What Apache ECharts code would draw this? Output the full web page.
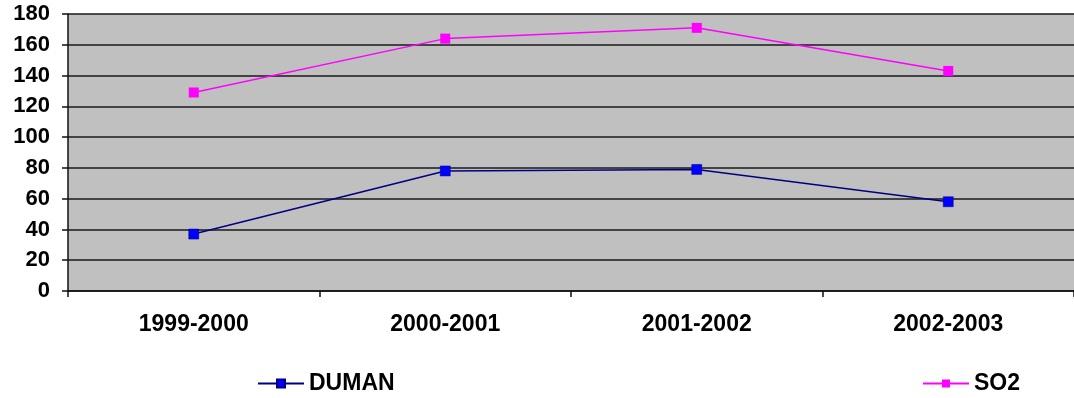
<!DOCTYPE html>
<html>
<head>
<meta charset="utf-8">
<script src="https://cdn.jsdelivr.net/npm/echarts@6/dist/echarts.min.js"></script>
<style>
  html, body { margin: 0; padding: 0; background: #ffffff; }
  #chart { width: 1074px; height: 398px; }
</style>
</head>
<body>
<div id="chart"></div>
<script>
// Seasons on the category axis
const seasons = ['1999-2000', '2000-2001', '2001-2002', '2002-2003'];
// Smoke (DUMAN) and sulphur dioxide (SO2) levels per season
const duman = [37, 78, 79, 58];
const so2 = [129, 164, 171, 143];
// Value axis range
const yMin = 0;
const yMax = 180;
const yStep = 20;

const font = 'Liberation Sans, Arial, sans-serif';
const chart = echarts.init(document.getElementById('chart'), null, { renderer: 'canvas' });

chart.setOption({
  animation: false,
  backgroundColor: '#ffffff',
  grid: {
    left: 68, top: 14, width: 1010, height: 277,
    show: true, backgroundColor: '#c0c0c0', borderWidth: 0
  },
  legend: [
    {
      data: ['DUMAN'], left: 252, top: 367,
      itemWidth: 46, itemHeight: 10, itemGap: 10,
      textStyle: { fontFamily: font, fontWeight: 'bold', fontSize: 23, color: '#000' }
    },
    {
      data: ['SO2'], left: 917, top: 367,
      itemWidth: 46, itemHeight: 10, itemGap: 7,
      textStyle: { fontFamily: font, fontWeight: 'bold', fontSize: 23, color: '#000' }
    }
  ],
  xAxis: {
    type: 'category',
    data: seasons,
    boundaryGap: true,
    axisLine: { lineStyle: { color: '#111', width: 1.5 } },
    axisTick: { show: true, interval: 0, length: 6, lineStyle: { color: '#111', width: 1.5 } },
    axisLabel: { margin: 22, fontFamily: font, fontWeight: 'bold', fontSize: 23, color: '#000', interval: 0 },
    splitLine: { show: false }
  },
  yAxis: {
    type: 'value',
    min: yMin, max: yMax, interval: yStep,
    axisLine: { show: true, lineStyle: { color: '#111', width: 1.5 } },
    axisTick: { show: true, length: 6, lineStyle: { color: '#111', width: 1.5 } },
    axisLabel: { margin: 18, fontFamily: font, fontWeight: 'bold', fontSize: 22, color: '#000' },
    splitLine: { show: true, lineStyle: { color: '#1a1a1a', width: 1.5 } }
  },
  series: [
    {
      name: 'DUMAN', type: 'line', data: duman,
      symbol: 'rect', symbolSize: 10,
      lineStyle: { color: '#000080', width: 1.5 },
      itemStyle: { color: '#0000ff', borderColor: '#000080', borderWidth: 0.5 }
    },
    {
      name: 'SO2', type: 'line', data: so2,
      symbol: 'rect', symbolSize: 10,
      lineStyle: { color: '#ff00ff', width: 1.5 },
      itemStyle: { color: '#ff00ff' }
    }
  ]
});
</script>
</body>
</html>
